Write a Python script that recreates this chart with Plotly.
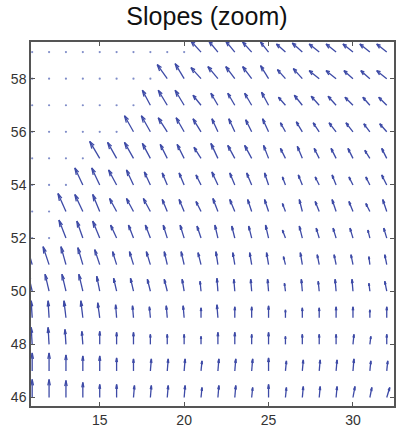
import plotly.graph_objects as go

# Grid of the quiver (columns x = 11..32, rows y = 59..46, top to bottom)
x_vals = list(range(11, 33))
y_vals = list(range(59, 45, -1))

# Slope components (one row per y value, x = 11..32)
U = [
    [0]*10 + [-10, -9, -9, -9, -8, -9, -10, -10, -10, -10, -10, -10],
    [0]*8 + [-10, -9, -10, -10, -9, -9, -8, -8, -9, -10, -10, -9, -9, -10],
    [0]*7 + [-8, -9, -9, -8, -7, -7, -7, -7, -7, -8, -8, -8, -8, -7, -8],
    [0]*6 + [-9, -9, -9, -8, -8, -6, -6, -6, -6, -5, -6, -6, -7, -7, -6, -7],
    [0]*4 + [-10, -9, -9, -8, -7, -7, -7, -7, -7, -7, -5, -5, -5, -5, -5, -5, -5, -5],
    [0]*3 + [-8, -8, -8, -7, -6, -5, -5, -5, -6, -5, -5, -4, -3, -4, -4, -4, -4, -4, -5],
    [0]*2 + [-8, -8, -7, -7, -7, -7, -5, -5, -5, -5, -5, -4, -4, -3, -3, -4, -4, -4, -4, -4],
    [0]*2 + [-7, -6, -7, -6, -5, -5, -4, -4, -4, -3, -3, -3, -3, -3, -3, -3, -3, -3, -2, -3],
    [-5, -6, -5, -5, -5, -4, -4, -4, -3, -3, -3, -2, -2, -2, -2, -2, -2, -2, -2, -2, -1, -2],
    [-4, -4, -4, -4, -3, -3, -3, -3, -3, -2, -1, -1, -1, -1, -1, -1, -1, -1, -1, -1, -1, -2],
    [-1, -1, -2, -2, -2, -1, -1, -1, -1, -1, 0, -1, 0, 0, 0, 0, 0, 0, 0, 0, 0, 0],
    [-1, -1, -1, -1, 0, 0, 0, 0, 0, 0, 0, 0, 0, 0, 0, 0, 0, 0, 0, 1, 1, 0],
    [0, 0, 0, 0, 0, 0, 0, 1, 1, 1, 1, 1, 1, 1, 0, 1, 1, 1, 1, 1, 1, 1],
    [0, 0, 0, 0, 0, 0, 1, 1, 1, 1, 1, 1, 1, 1, 0, 1, 1, 1, 1, 2, 2, 3],
]
V = [
    [0]*10 + [11, 11, 11, 10, 10, 8, 9, 8, 8, 8, 8, 8],
    [0]*8 + [14, 15, 11, 12, 12, 12, 13, 9, 10, 8, 8, 8, 8, 8],
    [0]*7 + [15, 15, 15, 10, 12, 12, 12, 13, 8, 10, 9, 9, 8, 8, 8],
    [0]*6 + [16, 16, 14, 14, 13, 13, 13, 12, 13, 9, 10, 9, 9, 9, 8, 8],
    [0]*4 + [17, 16, 16, 15, 14, 14, 11, 15, 13, 13, 13, 10, 12, 10, 10, 10, 8, 10],
    [0]*3 + [17, 17, 15, 15, 13, 12, 12, 10, 13, 12, 12, 12, 8, 10, 8, 10, 8, 8, 10],
    [0]*2 + [18, 17, 17, 13, 13, 13, 12, 12, 10, 13, 12, 12, 12, 8, 12, 10, 12, 10, 8, 12],
    [0]*2 + [18, 17, 17, 13, 13, 13, 13, 13, 12, 13, 12, 12, 13, 8, 12, 10, 10, 10, 8, 10],
    [18, 18, 18, 17, 15, 13, 13, 13, 13, 13, 12, 13, 12, 12, 12, 8, 12, 10, 10, 10, 8, 10],
    [17, 17, 17, 17, 15, 13, 13, 12, 12, 12, 10, 13, 12, 12, 12, 8, 12, 10, 12, 12, 8, 10],
    [17, 17, 17, 17, 15, 13, 12, 11, 12, 12, 10, 13, 11, 11, 12, 8, 10, 10, 11, 11, 8, 11],
    [17, 17, 15, 13, 13, 12, 12, 10, 10, 10, 8, 12, 12, 10, 12, 8, 10, 10, 10, 10, 8, 10],
    [18, 18, 16, 15, 15, 13, 12, 12, 12, 12, 10, 12, 12, 12, 13, 10, 11, 11, 11, 12, 10, 10],
    [18, 18, 17, 15, 13, 13, 12, 12, 12, 12, 10, 12, 12, 10, 13, 10, 11, 11, 11, 11, 10, 10],
]

x_ticks = [15, 20, 25, 30]
y_ticks = [46, 48, 50, 52, 54, 56, 58]

# quiver scaling (components -> data units), MATLAB-like arrowheads
SCALE_X = 1 / 16.87
SCALE_Y = 1 / 26.56
ALPHA = 0.33
BETA = 0.33

ax, ay = [], []
dots_x, dots_y = [], []
for r, yv in enumerate(y_vals):
    for c, xv in enumerate(x_vals):
        u = U[r][c] * SCALE_X
        v = V[r][c] * SCALE_Y
        if u == 0 and v == 0:
            dots_x.append(xv)
            dots_y.append(yv)
            continue
        tx, ty = xv + u, yv + v
        ax += [xv, tx, None]
        ay += [yv, ty, None]
        h1x = tx - ALPHA * (u + BETA * v)
        h1y = ty - ALPHA * (v - BETA * u)
        h3x = tx - ALPHA * (u - BETA * v)
        h3y = ty - ALPHA * (v + BETA * u)
        ax += [h1x, tx, h3x, None]
        ay += [h1y, ty, h3y, None]

fig = go.Figure()
fig.add_trace(go.Scatter(x=ax, y=ay, mode="lines",
                         line=dict(color="#3d4aa6", width=1.3),
                         hoverinfo="skip", showlegend=False))
fig.add_trace(go.Scatter(x=dots_x, y=dots_y, mode="markers",
                         marker=dict(color="#7f8cc8", size=2.2),
                         hoverinfo="skip", showlegend=False))

axis_common = dict(showgrid=False, zeroline=False, showline=True, mirror="ticks",
                   automargin=False,
                   linecolor="#555555", linewidth=1.5, ticks="inside", ticklen=4,
                   tickcolor="#555555",
                   tickfont=dict(family="Liberation Sans, Arial", size=14, color="#333333"))
fig.update_xaxes(range=[10.93, 32.43], tickvals=x_ticks, **axis_common)
fig.update_yaxes(range=[45.68, 59.38], tickvals=y_ticks, **axis_common)

fig.update_layout(
    template="none",
    width=398, height=428,
    margin=dict(l=31, r=4, t=42, b=22, autoexpand=False),
    paper_bgcolor="white", plot_bgcolor="white",
    title=dict(text="Slopes (zoom)", x=0.52, xanchor="center", y=0.962, yanchor="middle",
               font=dict(family="Liberation Sans, Arial", size=25, color="#111111")),
)

fig.write_html("out.html", config={"displayModeBar": False},
               post_script="document.body.style.margin='0';document.body.style.padding='0';")
